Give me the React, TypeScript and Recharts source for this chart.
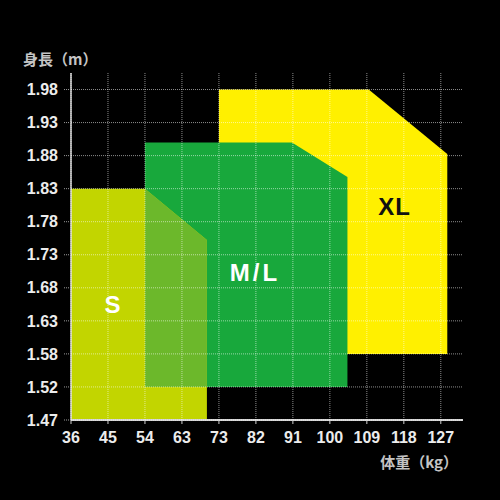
import {
  Area,
  CartesianGrid,
  ComposedChart,
  ReferenceDot,
  XAxis,
  YAxis
} from "recharts";

// axes are laid out in lb / inch steps, labelled in kg / m
const X_TICKS = [80, 100, 120, 140, 160, 180, 200, 220, 240, 260, 280];
const X_LABELS = ["36", "45", "54", "63", "73", "82", "91", "100", "109", "118", "127"];
const Y_TICKS = [58, 60, 62, 64, 66, 68, 70, 72, 74, 76, 78];
const Y_LABELS = ["1.47", "1.52", "1.58", "1.63", "1.68", "1.73", "1.78", "1.83", "1.88", "1.93", "1.98"];

// size zones: weight vertices, top edge at each vertex, flat bottom
const XL_WEIGHT = [160, 241, 283.5];
const XL_TOP = [78, 78, 74.1];
const XL_BOTTOM = 62;

const ML_WEIGHT = [120, 199.5, 229.5];
const ML_TOP = [74.8, 74.8, 72.7];
const ML_BOTTOM = 60;

const S_WEIGHT = [80, 120, 153.5];
const S_TOP = [72, 72, 68.9];
const S_BOTTOM = 58;

// where S and M/L overlap
const MIX_WEIGHT = [120, 153.5];
const MIX_TOP = [72, 68.9];
const MIX_BOTTOM = 60;

const SIZE_NAMES = ["S", "M/L", "XL"];
const NAME_WEIGHT = [102.7, 179.5, 255];
const NAME_HEIGHT = [65, 66.9, 70.9];
const NAME_COLORS = ["#ffffff", "#ffffff", "#111111"];

const zone = (weight: number[], top: number[], bottom: number) =>
  weight.map((lb, i) => ({ lb, range: [bottom, top[i]] }));

const xl = zone(XL_WEIGHT, XL_TOP, XL_BOTTOM);
const ml = zone(ML_WEIGHT, ML_TOP, ML_BOTTOM);
const s = zone(S_WEIGHT, S_TOP, S_BOTTOM);
const mix = zone(MIX_WEIGHT, MIX_TOP, MIX_BOTTOM);

const FONT = "'Liberation Sans', Arial, sans-serif";
const CJK = "'Noto Sans CJK JP', sans-serif";

export default function App() {
  const tick = { fill: "#ececec", fontSize: 16, fontWeight: 700, fontFamily: FONT };

  return (
    <div
      style={{
        position: "absolute",
        left: 0,
        top: 0,
        width: 500,
        height: 500,
        background: "#000"
      }}
    >
      <ComposedChart
        width={500}
        height={500}
        margin={{ top: 73, right: 37, bottom: 0, left: 0 }}
      >
        <XAxis
          type="number"
          dataKey="lb"
          domain={[80, 292]}
          ticks={X_TICKS}
          tickFormatter={(v) => X_LABELS[X_TICKS.indexOf(v)]}
          height={80}
          tick={tick}
          tickSize={4}
          tickMargin={8}
          axisLine={{ stroke: "#d0d0d0", strokeWidth: 2 }}
          tickLine={{ stroke: "#d0d0d0" }}
          allowDataOverflow
        />
        <YAxis
          type="number"
          domain={[58, 79]}
          ticks={Y_TICKS}
          tickFormatter={(v) => Y_LABELS[Y_TICKS.indexOf(v)]}
          width={71}
          tick={tick}
          tickSize={7}
          tickMargin={6}
          axisLine={{ stroke: "#d8d8d8", strokeWidth: 1.5 }}
          tickLine={{ stroke: "#9a9a9a", strokeDasharray: "1 1" }}
          allowDataOverflow
        />
        <Area
          data={xl}
          dataKey="range"
          type="linear"
          fill="#fff000"
          fillOpacity={1}
          stroke="none"
          isAnimationActive={false}
        />
        <Area
          data={ml}
          dataKey="range"
          type="linear"
          fill="#18a83c"
          fillOpacity={1}
          stroke="none"
          isAnimationActive={false}
        />
        <Area
          data={s}
          dataKey="range"
          type="linear"
          fill="#c2d500"
          fillOpacity={1}
          stroke="none"
          isAnimationActive={false}
        />
        <Area
          data={mix}
          dataKey="range"
          type="linear"
          fill="#6cb82b"
          fillOpacity={1}
          stroke="none"
          isAnimationActive={false}
        />
        <CartesianGrid
          stroke="rgba(255,255,255,0.55)"
          strokeDasharray="1 1"
          horizontalValues={Y_TICKS}
          verticalValues={X_TICKS}
          zIndex={900}
        />
        {SIZE_NAMES.map((name, i) => (
          <ReferenceDot
            key={name}
            x={NAME_WEIGHT[i]}
            y={NAME_HEIGHT[i]}
            r={0}
            fill="none"
            stroke="none"
            label={{
              value: name,
              position: "center",
              fill: NAME_COLORS[i],
              fontSize: 24,
              fontWeight: 700,
              fontFamily: FONT,
              letterSpacing: name === "M/L" ? 3 : 1
            }}
          />
        ))}
      </ComposedChart>
      <div
        style={{
          position: "absolute",
          left: 23,
          top: 50,
          color: "#c4c4c4",
          fontSize: 15,
          fontWeight: 700,
          fontFamily: CJK,
          lineHeight: "18px"
        }}
      >
        身長（m）
      </div>
      <div
        style={{
          position: "absolute",
          right: 42,
          top: 453,
          color: "#c4c4c4",
          fontSize: 15,
          fontWeight: 700,
          fontFamily: CJK,
          lineHeight: "18px"
        }}
      >
        体重（kg）
      </div>
    </div>
  );
}
